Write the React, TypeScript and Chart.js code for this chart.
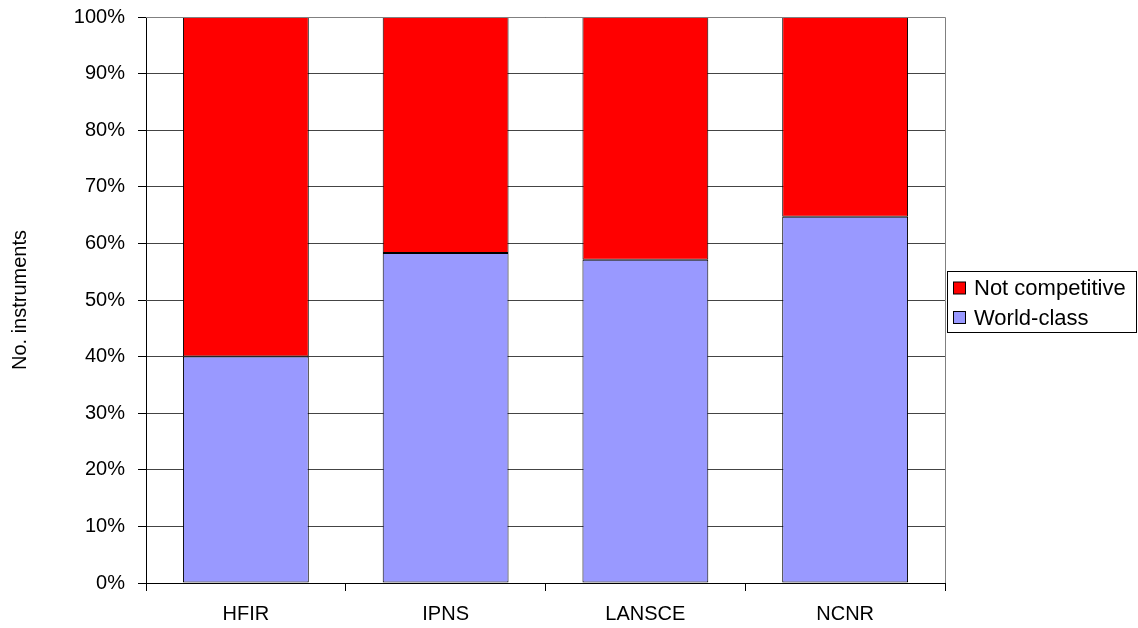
import React, { useEffect, useRef } from "react";
import { Chart, registerables } from "chart.js";

Chart.register(...registerables);

const categories = ["HFIR", "IPNS", "LANSCE", "NCNR"];
const worldClass = [40, 58.3, 57.1, 64.7];
const notCompetitive = [60, 41.7, 42.9, 35.3];
const seriesNames = ["World-class", "Not competitive"];
const yTitle = "No. instruments";

const FONT = "'Liberation Sans', Arial, sans-serif";

const framePlugin = {
  id: "frame",
  afterDatasetsDraw(chart: any) {
    const { ctx, chartArea } = chart;
    ctx.save();
    ctx.strokeStyle = "#808080";
    ctx.lineWidth = 1;
    ctx.beginPath();
    ctx.moveTo(chartArea.left, chartArea.top + 0.5);
    ctx.lineTo(chartArea.right + 0.5, chartArea.top + 0.5);
    ctx.lineTo(chartArea.right + 0.5, chartArea.bottom);
    ctx.stroke();
    ctx.restore();
  },
};

const legendPlugin = {
  id: "boxLegend",
  afterDraw(chart: any) {
    const { ctx } = chart;
    const ds = chart.data.datasets.slice().reverse();
    const x = 947.5, y = 271.5, w = 189, h = 61;
    ctx.save();
    ctx.fillStyle = "#fff";
    ctx.fillRect(x, y, w, h);
    ctx.strokeStyle = "#000";
    ctx.lineWidth = 1;
    ctx.strokeRect(x, y, w, h);
    ctx.font = `22px ${FONT}`;
    ctx.textBaseline = "middle";
    ctx.textAlign = "left";
    ds.forEach((d: any, i: number) => {
      const cy = 288 + i * 29.5;
      ctx.fillStyle = d.backgroundColor;
      ctx.fillRect(953.5, cy - 6, 12, 12);
      ctx.strokeStyle = "#000";
      ctx.strokeRect(953.5, cy - 6, 12, 12);
      ctx.fillStyle = "#000";
      ctx.fillText(d.label, 974, cy + 1);
    });
    ctx.restore();
  },
};

export default function App() {
  const ref = useRef<HTMLCanvasElement>(null);
  useEffect(() => {
    if (!ref.current) return;
    const chart = new Chart(ref.current, {
      type: "bar",
      data: {
        labels: categories,
        datasets: [
          {
            label: seriesNames[0],
            data: worldClass,
            backgroundColor: "#9999FF",
            borderColor: "#000",
            borderWidth: 1,
            borderSkipped: false,
          },
          {
            label: seriesNames[1],
            data: notCompetitive,
            backgroundColor: "#FF0000",
            borderColor: "#000",
            borderWidth: 1,
            borderSkipped: false,
          },
        ],
      },
      options: {
        responsive: false,
        animation: false,
        events: [],
        layout: { padding: { top: 17, right: 193, bottom: 0, left: 0 } },
        datasets: { bar: { barPercentage: 0.63, categoryPercentage: 1 } },
        plugins: { legend: { display: false }, tooltip: { enabled: false } },
        scales: {
          x: {
            stacked: true,
            grid: {
              offset: true,
              drawOnChartArea: false,
              drawTicks: true,
              tickLength: 8,
              color: "#000",
            },
            border: { color: "#000", width: 1 },
            ticks: { color: "#000", font: { family: FONT, size: 20 }, padding: 11, maxRotation: 0 },
            afterFit: (s: any) => {
              s.height = 45;
              s.paddingLeft = 0;
              s.paddingRight = 0;
            },
          },
          y: {
            stacked: true,
            min: 0,
            max: 100,
            grid: { color: "#444", tickLength: 8, tickColor: "#000" },
            border: { color: "#000", width: 1 },
            ticks: {
              stepSize: 10,
              color: "#000",
              font: { family: FONT, size: 20 },
              padding: 13,
              callback: (v: any) => v + "%",
            },
            title: {
              display: true,
              text: yTitle,
              color: "#000",
              font: { family: FONT, size: 20 },
              padding: { top: 8, bottom: 0 },
            },
            afterFit: (s: any) => {
              s.width = 146;
              s.paddingTop = 0;
              s.paddingBottom = 0;
            },
          },
        },
      },
      plugins: [framePlugin, legendPlugin],
    });
    return () => chart.destroy();
  }, []);
  return (
    <div style={{ position: "fixed", left: 0, top: 0, width: 1138, height: 628, background: "#fff" }}>
      <canvas ref={ref} width={1138} height={628} />
    </div>
  );
}
